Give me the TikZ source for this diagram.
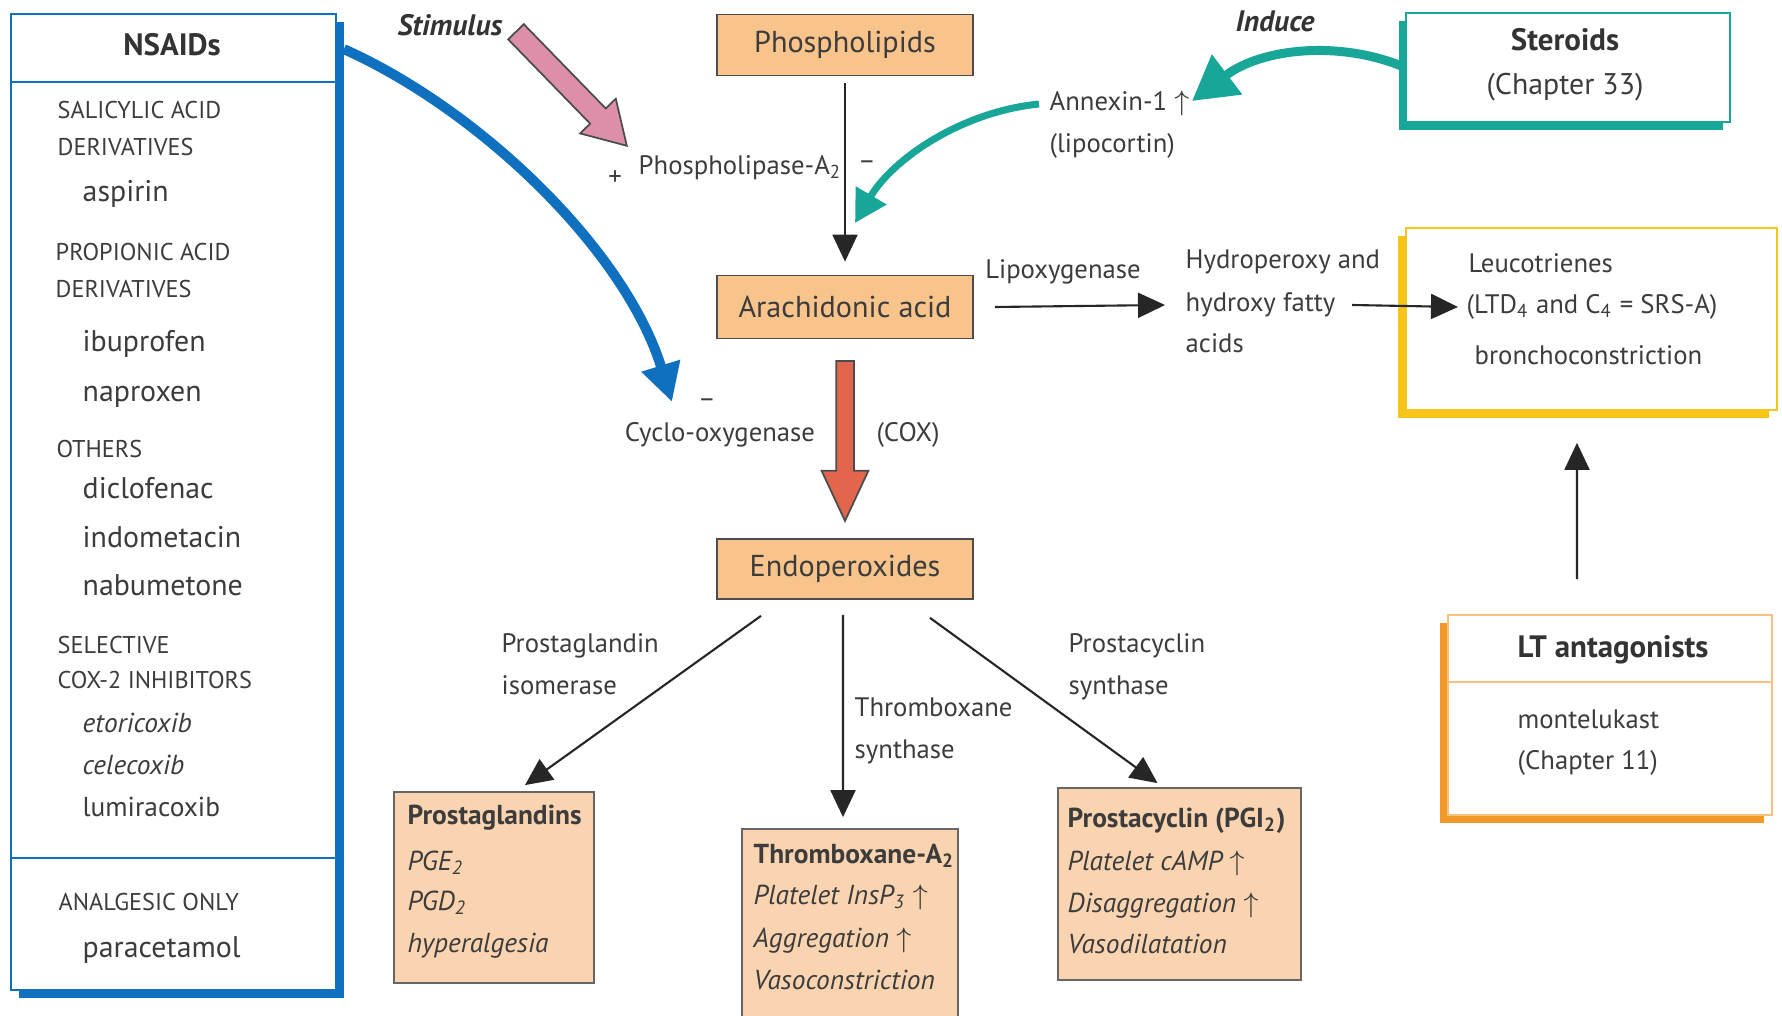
\documentclass[tikz,border=0pt]{standalone}
\usepackage{fontspec}
\setmainfont{PT Sans}
\usetikzlibrary{arrows.meta, shapes.arrows, shadows}

\definecolor{azulaine}{RGB}{14,112,190}
\definecolor{verdeazul}{RGB}{24,166,152}
\definecolor{rosa}{RGB}{221,143,170}
\definecolor{salmon}{RGB}{226,102,78}
\definecolor{melocoton}{RGB}{249,196,140}
\definecolor{melocotonclaro}{RGB}{250,212,176}
\definecolor{amarillo}{RGB}{247,196,25}
\definecolor{naranja}{RGB}{242,152,40}
\definecolor{gristexto}{RGB}{60,60,60}

\begin{document}
\begin{tikzpicture}[x=0.1mm, y=-0.1mm,
    caja/.style={draw=black!70, fill=melocoton, line width=0.5pt, inner sep=0pt,
        minimum width=25.6mm, minimum height=6.1mm, text=gristexto,
        font=\fontsize{8.6}{10}\selectfont},
    cajab/.style={draw=black!60, fill=melocotonclaro, line width=0.5pt, inner sep=0pt},
    marco/.style={fill=white, line width=0.5pt, inner sep=0pt},
    etiq/.style={font=\fontsize{7.6}{9}\selectfont, text=gristexto, inner sep=0pt,
        text height=5.5pt, text depth=1.6pt},
    renglon/.style={etiq, anchor=west},
    mayus/.style={font=\fontsize{6.9}{8}\selectfont, text=gristexto, inner sep=0pt,
        text height=5.5pt, text depth=1.6pt, anchor=west},
    farmaco/.style={font=\fontsize{8.5}{10}\selectfont, text=gristexto, inner sep=0pt,
        text height=5.5pt, text depth=1.6pt, anchor=west},
    contenido/.style={font=\fontsize{7.8}{9}\selectfont, text=gristexto, inner sep=0pt,
        text height=5.5pt, text depth=1.6pt, anchor=west},
    titulo/.style={font=\fontsize{8.8}{10}\selectfont\bfseries, text=black!80, inner sep=0pt},
    accion/.style={font=\fontsize{8.4}{10}\selectfont\bfseries\itshape, text=black!80, inner sep=0pt},
    flecha/.style={draw=black!85, line width=0.6pt, -{Triangle[length=2.7mm, width=2.5mm]}},
  ]
\fill[white] (0,0) rectangle (1782,1016);
\useasboundingbox (0,0) rectangle (1782,1016);

% Caja de los AINE
\node[marco, draw=azulaine, drop shadow={shadow xshift=0.8mm, shadow yshift=-0.8mm, fill=azulaine, opacity=1},
    minimum width=32.5mm, minimum height=97.6mm] (nsaid) at (173.5,502) {};
\draw[azulaine, line width=0.5pt] (11,82) -- (336,82);
\draw[azulaine, line width=0.5pt] (11,858) -- (336,858);
\node[titulo] (nsaidtit) at (172,45) {NSAIDs};
\node[mayus] (sal1) at (57,112) {SALICYLIC ACID};
\node[mayus] (sal2) at (57,149) {DERIVATIVES};
\node[farmaco] (aspirina) at (82,195) {aspirin};
\node[mayus] (prop1) at (55,254) {PROPIONIC ACID};
\node[mayus] (prop2) at (55,291) {DERIVATIVES};
\node[farmaco] (ibuprofeno) at (82,345) {ibuprofen};
\node[farmaco] (naproxeno) at (82,395) {naproxen};
\node[mayus] (otros) at (56,451) {OTHERS};
\node[farmaco] (diclofenaco) at (82,492) {diclofenac};
\node[farmaco] (indometacina) at (82,541) {indometacin};
\node[farmaco] (nabumetona) at (82,589) {nabumetone};
\node[mayus] (sel1) at (57,647) {SELECTIVE};
\node[mayus] (sel2) at (57,682) {COX-2 INHIBITORS};
\node[contenido] (etoricoxib) at (82,726) {\itshape etoricoxib};
\node[contenido] (celecoxib) at (82,768) {\itshape celecoxib};
\node[contenido] (lumiracoxib) at (82,810) {lumiracoxib};
\node[mayus] (analg) at (58,904) {ANALGESIC ONLY};
\node[farmaco] (paracetamol) at (82,951) {paracetamol};

% Cajas centrales
\node[caja] (fosfo) at (845,45) {Phospholipids};
\node[caja, minimum height=6.3mm] (araq) at (845,307) {Arachidonic acid};
\node[caja, minimum height=6.0mm] (endo) at (845,569) {Endoperoxides};

% Fosfolipasa y estimulo
\node[accion] (estimulo) at (450,25) {Stimulus};
\node[renglon] (pla2) at (638,168) {Phospholipase-A\textsubscript{2}};
\node[etiq] (mas) at (615,179) {+};
\node[etiq] (menos1) at (867,163) {--};
\node[single arrow, draw=black!70, fill=rosa, line width=0.5pt, minimum height=15.9mm,
    single arrow head extend=1.4mm, single arrow tip angle=62,
    inner xsep=0pt, inner ysep=1.0mm, rotate=-45.8, anchor=tip] (flecharosa) at (628,147) {};
\draw[flecha, shorten <=0.7mm, shorten >=1.3mm] (fosfo) -- (araq);

% Ciclooxigenasa
\node[etiq] (cox) at (720,435) {Cyclo-oxygenase};
\node[etiq] (menos2) at (707,401) {--};
\node[etiq] (coxab) at (908,435) {(COX)};
\node[single arrow, draw=black!70, fill=salmon, line width=0.5pt, minimum height=16mm,
    single arrow head extend=1.45mm, single arrow tip angle=50,
    inner xsep=0pt, inner ysep=0.8mm, rotate=-90, anchor=tip] (flecharoja) at (845,523) {};

% Flecha azul de los AINE
\coordinate (coxinhib) at (672,402);
\draw[azulaine, line width=1.0mm, -{Triangle[length=3.8mm, width=3.8mm]}]
    ([xshift=0.7mm, yshift=-3.6mm]nsaid.north east) .. controls (480,110) and (625,250) .. (coxinhib);

% Esteroides y anexina
\node[renglon] (anexina) at (1049,104) {Annexin-1 $\uparrow$};
\node[renglon] (lipocortina) at (1049,146) {(lipocortin)};
\node[accion] (inducir) at (1275,21) {Induce};
\node[marco, draw=verdeazul, drop shadow={shadow xshift=-0.7mm, shadow yshift=-0.8mm, fill=verdeazul, opacity=1},
    minimum width=32.4mm, minimum height=10.9mm] (esteroides) at (1568,67.5) {};
\node[titulo] (esttit) at (1565,40) {Steroids};
\node[farmaco, anchor=center] (estcap) at (1565,88) {(Chapter 33)};
\coordinate (anexpunta) at (1192,101);
\coordinate (anexinhib) at (855,223);
\draw[verdeazul, line width=0.9mm, -{Triangle[length=4.4mm, width=4.8mm]}]
    (esteroides.west) .. controls (1340,40) and (1262,48) .. (anexpunta);
\draw[verdeazul, line width=0.7mm, -{Triangle[length=3.2mm, width=3.4mm]}]
    ([xshift=-1mm]anexina.west) .. controls (960,112) and (892,160) .. (anexinhib);

% Lipoxigenasa y leucotrienos
\node[etiq] (lipox) at (1063,272) {Lipoxygenase};
\node[renglon] (hidro1) at (1185,262) {Hydroperoxy and};
\node[renglon] (hidro2) at (1185,305) {hydroxy fatty};
\node[renglon] (hidro3) at (1185,346) {acids};
\node[marco, draw=amarillo, drop shadow={shadow xshift=-0.8mm, shadow yshift=-0.8mm, fill=amarillo, opacity=1},
    minimum width=37.1mm, minimum height=18.2mm] (leucaja) at (1591.5,319) {};
\node[renglon] (leu1) at (1468,266) {Leucotrienes};
\node[renglon] (leu2) at (1466,307) {(LTD\textsubscript{4} and C\textsubscript{4} = SRS-A)};
\node[renglon] (leu3) at (1474,358) {bronchoconstriction};
\draw[flecha] ([xshift=2.1mm]araq.east) -- ([xshift=-2mm]hidro2.west);
\draw[flecha] ([xshift=1.6mm]hidro2.east) -- ([xshift=-0.8mm]leu2.west);

% Antagonistas LT
\node[marco, draw=naranja!60, drop shadow={shadow xshift=-0.8mm, shadow yshift=-0.8mm, fill=naranja, opacity=1},
    minimum width=32.4mm, minimum height=20mm] (ltcaja) at (1610,715) {};
\draw[naranja!60, line width=0.5pt] (1448,682) -- (1772,682);
\node[titulo] (lttit) at (1613,650) {LT antagonists};
\node[renglon] (lt1) at (1517,722) {montelukast};
\node[renglon] (lt2) at (1517,763) {(Chapter 11)};
\draw[flecha] ([xshift=-3.3mm, yshift=3.5mm]ltcaja.north) -- ([xshift=-1.45mm, yshift=-3.2mm]leucaja.south);

% Productos de los endoperoxidos
\node[renglon] (pgenz1) at (501,646) {Prostaglandin};
\node[renglon] (pgenz2) at (501,688) {isomerase};
\node[renglon] (txenz1) at (854,710) {Thromboxane};
\node[renglon] (txenz2) at (854,752) {synthase};
\node[renglon] (pcenz1) at (1068,646) {Prostacyclin};
\node[renglon] (pcenz2) at (1068,688) {synthase};

\node[cajab, minimum width=20mm, minimum height=19.1mm] (pgcaja) at (494,887.5) {};
\node[contenido] (pg1) at (407,818) {\bfseries Prostaglandins};
\node[contenido] (pg2) at (407,864) {\itshape PGE\textsubscript{2}};
\node[contenido] (pg3) at (407,904) {\itshape PGD\textsubscript{2}};
\node[contenido] (pg4) at (407,946) {\itshape hyperalgesia};

\node[cajab, minimum width=21.6mm, minimum height=20.1mm] (txcaja) at (850,929.5) {};
\node[contenido] (tx1) at (753,857) {\bfseries Thromboxane-A\textsubscript{2}};
\node[contenido] (tx2) at (753,898) {\itshape Platelet InsP\textsubscript{3} $\uparrow$};
\node[contenido] (tx3) at (753,941) {\itshape Aggregation $\uparrow$};
\node[contenido] (tx4) at (753,983) {\itshape Vasoconstriction};

\node[cajab, minimum width=24.3mm, minimum height=19.2mm] (pccaja) at (1179.5,884) {};
\node[contenido] (pc1) at (1067,821) {\bfseries Prostacyclin (PGI\textsubscript{2})};
\node[contenido] (pc2) at (1067,864) {\itshape Platelet cAMP $\uparrow$};
\node[contenido] (pc3) at (1067,906) {\itshape Disaggregation $\uparrow$};
\node[contenido] (pc4) at (1067,947) {\itshape Vasodilatation};

\draw[flecha] ([xshift=-8.4mm, yshift=-1.6mm]endo.south) -- ([xshift=3.1mm, yshift=0.6mm]pgcaja.north);
\draw[flecha] ([xshift=-0.2mm, yshift=-1.5mm]endo.south) -- ([xshift=-0.7mm, yshift=1.1mm]txcaja.north);
\draw[flecha] ([xshift=8.5mm, yshift=-1.8mm]endo.south) -- ([xshift=-2.2mm, yshift=0.4mm]pccaja.north);
\end{tikzpicture}
\end{document}
